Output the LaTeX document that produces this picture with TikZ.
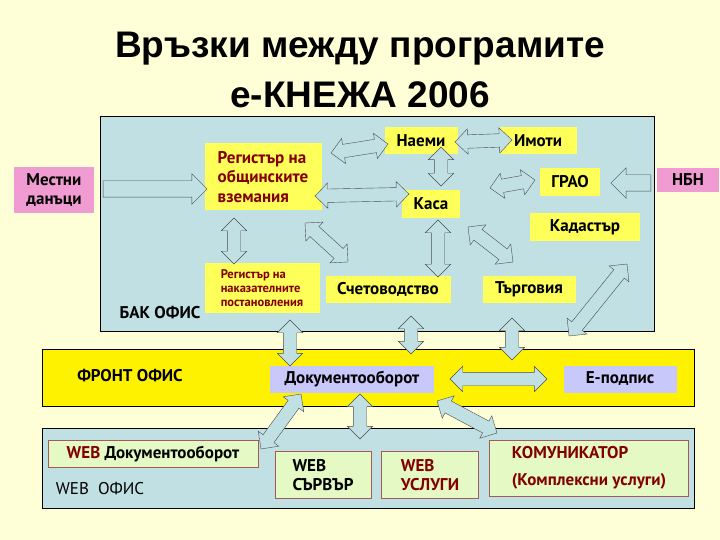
\documentclass[tikz,border=0pt]{standalone}
\usepackage{fontspec}
\setmainfont{PT Sans}
\newfontfamily\titlefont{Liberation Sans}
\usetikzlibrary{shapes.arrows,calc}
\definecolor{bgc}{RGB}{255,255,215}
\definecolor{lb}{RGB}{192,224,228}
\definecolor{yb}{RGB}{255,255,90}
\definecolor{pk}{RGB}{240,155,210}
\definecolor{lav}{RGB}{200,200,250}
\definecolor{gr}{RGB}{228,249,196}
\definecolor{dred}{RGB}{130,0,0}
\tikzset{
  lbl/.style={font=\fontsize{17}{19.5}\selectfont\bfseries, inner sep=0pt},
  ybox/.style={fill=yb, draw=none},
  dbl/.style={double arrow, fill=lb, draw=black!70, inner xsep=0pt, inner ysep=6.5pt, double arrow head extend=6pt},
  sgl/.style={single arrow, fill=lb, draw=black!70, inner xsep=0pt, inner ysep=8pt, single arrow head extend=7pt},
}
\newcommand\blockarr[3]{\path let \p1=($(#3)-(#2)$), \n1={veclen(\x1,\y1)}, \n2={atan2(\y1,\x1)} in node[#1, minimum height=\n1, rotate=\n2] at ($(#2)!0.5!(#3)$) {};}
\begin{document}
\begin{tikzpicture}[x=1pt,y=-1pt]
\fill[bgc] (0,0) rectangle (720,540);
\useasboundingbox (0,0) rectangle (720,540);
\node[font=\titlefont\fontsize{37}{50}\selectfont\bfseries, align=center] (title) at (360,70) {Връзки между програмите\\е-КНЕЖА 2006};
% regions
\node[draw=black, fill=lb, minimum width=554, minimum height=215, anchor=north west, inner sep=0] (bak) at (100,116) {};
\node[draw=black, fill=yellow, minimum width=652, minimum height=57, anchor=north west, inner sep=0] (front) at (42,349) {};
\node[draw=black, fill=lb, minimum width=652, minimum height=80, anchor=north west, inner sep=0] (web) at (42,428) {};
% boxes
\node[fill=pk, minimum width=80, minimum height=46] (mest) at (54,190) {};
\node[lbl, align=left] at (mest) {Местни\\данъци};
\node[fill=pk, minimum width=62, minimum height=24] (nbn) at (688,180) {};
\node[lbl] at (nbn) {НБН};
\node[ybox, minimum width=117, minimum height=67] (reg) at (263,177) {};
\node[lbl, align=left, text=dred] at (263,177) {Регистър на\\общинските\\вземания};
\node[ybox, minimum width=73, minimum height=27] (naemi) at (421,141) {};
\node[lbl] at (naemi) {Наеми};
\node[ybox, minimum width=77, minimum height=27] (imoti) at (538,141) {};
\node[lbl] at (imoti) {Имоти};
\node[ybox, minimum width=60, minimum height=28] (grao) at (570,182) {};
\node[lbl] at (grao) {ГРАО};
\node[ybox, minimum width=58, minimum height=28] (kasa) at (431,204) {};
\node[lbl] at (kasa) {Каса};
\node[ybox, minimum width=110, minimum height=27] (kad) at (585,227) {};
\node[lbl] at (kad) {Кадастър};
\node[ybox, minimum width=115, minimum height=50] (nak) at (262,288) {};
\node[font=\fontsize{12.5}{14}\selectfont\bfseries, align=left, text=dred, inner sep=0] at (nak) {Регистър на\\наказателните\\постановления};
\node[ybox, minimum width=125, minimum height=27] (schet) at (388,289) {};
\node[lbl] at (schet) {Счетоводство};
\node[ybox, minimum width=93, minimum height=27] (targ) at (529,289) {};
\node[lbl] at (targ) {Търговия};
\node[lbl] (bakl) at (160,313) {БАК ОФИС};
\node[lbl] (frontl) at (130,376) {ФРОНТ ОФИС};
\node[fill=lav, minimum width=164, minimum height=27] (dok) at (352,379) {};
\node[lbl] at (dok) {Документооборот};
\node[fill=lav, minimum width=113, minimum height=27] (epod) at (620,379) {};
\node[lbl] at (epod) {Е-подпис};
\node[fill=gr, draw=red!30!gray, minimum width=210, minimum height=27] (wdok) at (153,454) {};
\node[lbl] at (wdok) {\textcolor{dred}{WEB} Документооборот};
\node[fill=gr, draw=red!30!gray, minimum width=96, minimum height=47] (wsrv) at (323,475) {};
\node[lbl, align=left] at (wsrv) {WEB\\СЪРВЪР};
\node[fill=gr, draw=red!30!gray, minimum width=97, minimum height=47] (wusl) at (430,475) {};
\node[lbl, align=left, text=dred] at (wusl) {WEB\\УСЛУГИ};
\node[fill=gr, draw=red!30!gray, minimum width=199, minimum height=56] (kom) at (589,468) {};
\node[lbl, align=left, text=dred] at (kom) {КОМУНИКАТОР\\[8pt](Комплексни услуги)};
\node[font=\fontsize{17}{19}\selectfont, inner sep=0] (webl) at (100,489) {WEB\ \ ОФИС};
% arrow endpoints
\coordinate (a1) at (99,189); \coordinate (a2) at (203,189);
\coordinate (b1) at (655,183); \coordinate (b2) at (615,183);
\coordinate (c1) at (331,153); \coordinate (c2) at (388,144);
\coordinate (d1) at (455,142); \coordinate (d2) at (512,140);
\coordinate (e1) at (441,147); \coordinate (e2) at (441,186);
\coordinate (f1) at (315,196); \coordinate (f2) at (409,194);
\coordinate (g1) at (490,188); \coordinate (g2) at (535,180);
\coordinate (h1) at (234,218); \coordinate (h2) at (234,264);
\coordinate (i1) at (305,223); \coordinate (i2) at (348,262);
\coordinate (j1) at (438,220); \coordinate (j2) at (438,277);
\coordinate (k1) at (468,227); \coordinate (k2) at (513,262);
\coordinate (l1) at (627,264); \coordinate (l2) at (569,336);
\coordinate (m1) at (290,320); \coordinate (m2) at (290,366);
\coordinate (n1) at (411,316); \coordinate (n2) at (411,354);
\coordinate (o1) at (512,318); \coordinate (o2) at (512,360);
\coordinate (p1) at (450,379); \coordinate (p2) at (547,379);
\coordinate (q1) at (301,394); \coordinate (q2) at (261,449);
\coordinate (r1) at (360,394); \coordinate (r2) at (360,439);
\coordinate (s1) at (437,401); \coordinate (s2) at (497,433);
\blockarr{sgl}{a1}{a2}
\blockarr{sgl}{b1}{b2}
\blockarr{dbl}{c1}{c2}
\blockarr{dbl}{d1}{d2}
\blockarr{dbl}{e1}{e2}
\blockarr{dbl}{f1}{f2}
\blockarr{dbl}{g1}{g2}
\blockarr{dbl}{h1}{h2}
\blockarr{dbl}{i1}{i2}
\blockarr{dbl}{j1}{j2}
\blockarr{dbl}{k1}{k2}
\blockarr{dbl}{l1}{l2}
\blockarr{dbl}{m1}{m2}
\blockarr{dbl}{n1}{n2}
\blockarr{dbl}{o1}{o2}
\blockarr{dbl}{p1}{p2}
\blockarr{dbl}{q1}{q2}
\blockarr{dbl}{r1}{r2}
\blockarr{dbl}{s1}{s2}
\end{tikzpicture}
\end{document}
